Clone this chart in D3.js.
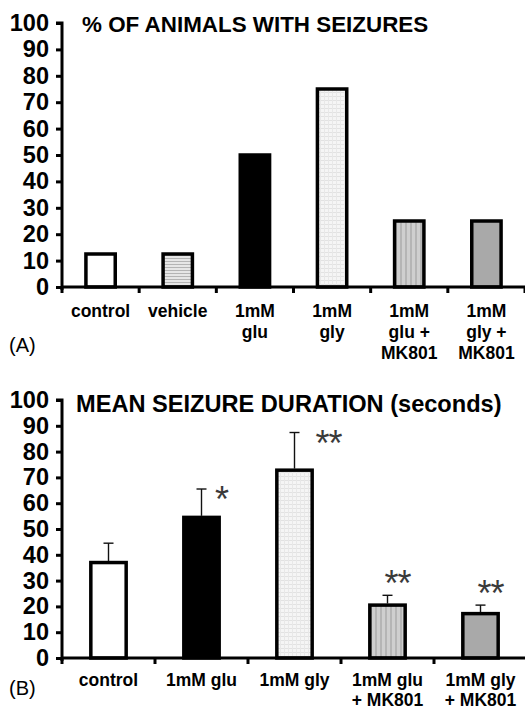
<!DOCTYPE html>
<html>
<head>
<meta charset="utf-8">
<script src="https://cdn.jsdelivr.net/npm/d3@7"></script>
<style>
  body { margin: 0; background: #fff; }
  svg { display: block; }
  text { font-family: "Liberation Sans", Arial, sans-serif; }
</style>
</head>
<body>
<svg id="chart" width="525" height="709"></svg>
<script>
// panel A: % of animals with seizures
const catsA = ["control", "vehicle", "1mM glu", "1mM gly", "1mM glu + MK801", "1mM gly + MK801"];
const labelsA = [["control"], ["vehicle"], ["1mM", "glu"], ["1mM", "gly"], ["1mM", "glu +", "MK801"], ["1mM", "gly +", "MK801"]];
const valuesA = [12.5, 12.5, 50, 75, 25, 25];
const fillsA = ["#fff", "url(#hlines)", "#000", "url(#grid)", "url(#vlines)", "#a9a9a9"];

// panel B: mean seizure duration
const catsB = ["control", "1mM glu", "1mM gly", "1mM glu + MK801", "1mM gly + MK801"];
const labelsB = [["control"], ["1mM glu"], ["1mM gly"], ["1mM glu", "+ MK801"], ["1mM gly", "+ MK801"]];
const valuesB = [37, 54.5, 72.8, 20.5, 17.2];
const errB = [7.5, 11, 14.6, 3.8, 3.3];
const sigB = ["", "*", "**", "**", "**"];
const sigPlace = ["", "right", "right", "above", "above"];
const fillsB = ["#fff", "#000", "url(#grid)", "url(#vlines)", "#a9a9a9"];

const yTicks = d3.range(0, 101, 10);

const svg = d3.select("#chart");
const defs = svg.append("defs");

// textures
const hl = defs.append("pattern").attr("id", "hlines").attr("patternUnits", "userSpaceOnUse")
  .attr("width", 4).attr("height", 3);
hl.append("rect").attr("width", 4).attr("height", 3).attr("fill", "#e6e6e6");
hl.append("rect").attr("width", 4).attr("height", 1).attr("fill", "#b4b4b4");

const gr = defs.append("pattern").attr("id", "grid").attr("patternUnits", "userSpaceOnUse")
  .attr("width", 4).attr("height", 4);
gr.append("rect").attr("width", 4).attr("height", 4).attr("fill", "#f5f5f5");
gr.append("rect").attr("width", 4).attr("height", 1).attr("fill", "#e2e2e2");
gr.append("rect").attr("width", 1).attr("height", 4).attr("fill", "#e8e8e8");

const vl = defs.append("pattern").attr("id", "vlines").attr("patternUnits", "userSpaceOnUse")
  .attr("width", 5).attr("height", 4);
vl.append("rect").attr("width", 5).attr("height", 4).attr("fill", "#cfcfcf");
vl.append("rect").attr("width", 2).attr("height", 4).attr("fill", "#b5b5b5");

function panel(opt) {
  const g = svg.append("g");
  const x = d3.scaleBand().domain(opt.cats).range([opt.x0, opt.x1]).padding(0);
  const y = d3.scaleLinear().domain([0, 100]).range([opt.y0, opt.y1]);
  const bw = x.bandwidth() * 0.38;

  // bars
  g.selectAll("rect.bar").data(opt.values).join("rect")
    .attr("class", "bar")
    .attr("x", (d, i) => x(opt.cats[i]) + x.bandwidth() / 2 - bw / 2)
    .attr("y", d => y(d))
    .attr("width", bw)
    .attr("height", d => y(0) - y(d))
    .attr("fill", (d, i) => opt.fills[i])
    .attr("stroke", "#000")
    .attr("stroke-width", 3.5);

  // error bars
  if (opt.err) {
    opt.values.forEach((v, i) => {
      const cx = x(opt.cats[i]) + x.bandwidth() / 2;
      const top = y(v + opt.err[i]);
      g.append("line").attr("x1", cx).attr("x2", cx).attr("y1", y(v) - 1.5).attr("y2", top)
        .attr("stroke", "#111").attr("stroke-width", 1.4);
      g.append("line").attr("x1", cx - 5).attr("x2", cx + 5).attr("y1", top).attr("y2", top)
        .attr("stroke", "#111").attr("stroke-width", 1.4);
      if (opt.sig[i]) {
        let sx = cx, sy = top;
        if (opt.place[i] === "right") { sx = cx + (opt.sig[i].length === 1 ? 20 : 34); sy = top + 2; }
        else { sx = cx + 10; sy = top - 20; }
        g.append("text").attr("x", sx).attr("y", sy + 21)
          .attr("text-anchor", "middle")
          .attr("font-size", 36).attr("fill", "#3a3a3a")
          .attr("letter-spacing", -1)
          .text(opt.sig[i]);
      }
    });
  }

  // y axis
  const ya = g.append("g").attr("transform", `translate(${opt.x0},0)`)
    .call(d3.axisLeft(y).tickValues(yTicks).tickSize(6).tickPadding(7));
  ya.select(".domain").attr("stroke-width", 3).attr("d", `M-6,${y(100)}H0V${y(0) + 3}`);
  ya.selectAll(".tick line").attr("stroke-width", 3);
  ya.selectAll(".tick text").attr("font-size", 23.5).attr("font-weight", "bold").attr("fill", "#000")
    .attr("font-family", "Liberation Sans, Arial, sans-serif");

  // x axis line and boundary ticks
  g.append("line").attr("x1", opt.x0).attr("x2", 525).attr("y1", y(0)).attr("y2", y(0))
    .attr("stroke", "#000").attr("stroke-width", 3);
  const bounds = opt.cats.map(c => x(c)).concat([opt.x1]);
  g.selectAll("line.bt").data(bounds).join("line")
    .attr("class", "bt")
    .attr("x1", d => d).attr("x2", d => d)
    .attr("y1", y(0)).attr("y2", y(0) + 6)
    .attr("stroke", "#000").attr("stroke-width", 3);

  // category labels
  const lab = g.selectAll("text.cat").data(opt.labels).join("text")
    .attr("class", "cat")
    .attr("text-anchor", "middle")
    .attr("font-size", 17.5).attr("font-weight", "bold")
    .attr("x", (d, i) => x(opt.cats[i]) + x.bandwidth() / 2)
    .attr("y", opt.labelY);
  lab.selectAll("tspan").data(d => d).join("tspan")
    .attr("x", function () { return this.parentNode.getAttribute("x"); })
    .attr("dy", (d, i) => i === 0 ? 0 : opt.lineH)
    .text(d => d);

  // title
  g.append("text").attr("x", opt.titleX).attr("y", opt.titleY)
    .attr("font-size", opt.titleSize).attr("font-weight", "bold").text(opt.title);

  // panel letter
  g.append("text").attr("x", 9).attr("y", opt.letterY)
    .attr("font-size", 20).text(opt.letter);
}

panel({
  cats: catsA, labels: labelsA, values: valuesA, fills: fillsA,
  x0: 62, x1: 525, y0: 287, y1: 23,
  labelY: 317, lineH: 21,
  title: "% OF ANIMALS WITH SEIZURES", titleX: 82, titleY: 32, titleSize: 22.4,
  letter: "(A)", letterY: 352
});

panel({
  cats: catsB, labels: labelsB, values: valuesB, fills: fillsB,
  err: errB, sig: sigB, place: sigPlace,
  x0: 62, x1: 527, y0: 658, y1: 400,
  labelY: 686, lineH: 19.5,
  title: "MEAN SEIZURE DURATION (seconds)", titleX: 76, titleY: 411.5, titleSize: 23.6,
  letter: "(B)", letterY: 695
});
</script>
</body>
</html>
